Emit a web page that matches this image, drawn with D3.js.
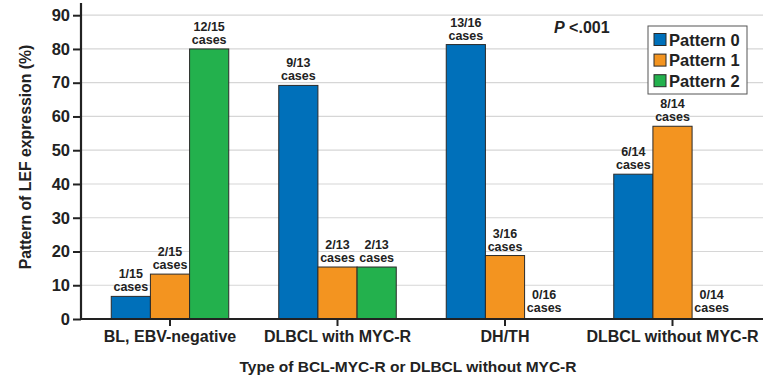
<!DOCTYPE html>
<html><head><meta charset="utf-8">
<script src="https://cdn.jsdelivr.net/npm/d3@7"></script>
<style>body{margin:0;background:#fff}svg{display:block}text{font-family:"Liberation Sans",Arial,Helvetica,sans-serif}</style>
</head><body><svg id="c" width="778" height="384"></svg>
<script>
const categories = ["BL, EBV-negative", "DLBCL with MYC-R", "DH/TH", "DLBCL without MYC-R"];
const patterns = ["Pattern 0", "Pattern 1", "Pattern 2"];
const pattern0 = [6.7, 69.2, 81.3, 42.9];
const pattern1 = [13.3, 15.4, 18.8, 57.1];
const pattern2 = [80, 15.4, 0, 0];
const labels0 = ["1/15", "9/13", "13/16", "6/14"];
const labels1 = ["2/15", "2/13", "3/16", "8/14"];
const labels2 = ["12/15", "2/13", "0/16", "0/14"];
const yTicks = [0, 10, 20, 30, 40, 50, 60, 70, 80, 90];
const colors = ["#0070BA", "#F39420", "#23B14D"];

const svg = d3.select("#c");
const x0 = d3.scaleBand().domain(categories).range([86.25, 756.25]).padding(0);
const y = d3.scaleLinear().domain([0, 90]).range([319, 15.2]);
const x1 = d3.scaleBand().domain(patterns).range([-58.75, 58.75]).padding(0);
const cx = c => x0(c) + x0.bandwidth() / 2;
const left = 81, right = 763;

// gridlines
svg.append("g").selectAll("line").data(yTicks.filter(d => d > 0)).join("line")
  .attr("x1", left).attr("x2", right).attr("y1", d => y(d)).attr("y2", d => y(d))
  .attr("stroke", "#d6d6d6").attr("stroke-width", 1.2);

const series = [pattern0, pattern1, pattern2];
const labs = [labels0, labels1, labels2];
const data = [];
categories.forEach((c, i) => patterns.forEach((p, j) => data.push({c, p, j, v: series[j][i], l: labs[j][i]})));

svg.append("g").selectAll("rect").data(data.filter(d => d.v > 0)).join("rect")
  .attr("x", d => cx(d.c) + x1(d.p)).attr("width", x1.bandwidth())
  .attr("y", d => y(d.v)).attr("height", d => y(0) - y(d.v))
  .attr("fill", d => colors[d.j]).attr("stroke", "#2a2a2a").attr("stroke-width", 1);

const lg = svg.append("g").selectAll("text").data(data).join("text")
  .attr("text-anchor", "middle").attr("fill", "#222").attr("font-size", 12.5).attr("font-weight", "bold")
  .attr("transform", d => `translate(${cx(d.c) + x1(d.p) + x1.bandwidth() / 2},${y(d.v) - (d.v > 0 ? 5 : 7)})`);
lg.append("tspan").attr("x", 0).attr("dy", -13).text(d => d.l);
lg.append("tspan").attr("x", 0).attr("dy", 13).text("cases");

// y axis
const ya = svg.append("g").attr("transform", `translate(${left},0)`)
  .call(d3.axisLeft(y).tickValues(yTicks).tickSize(8).tickPadding(3));
ya.select(".domain").remove();
ya.selectAll("line").attr("stroke", "#222").attr("stroke-width", 2);
ya.selectAll("text").attr("font-size", 16.5).attr("font-weight", "bold").attr("fill", "#222")
  .attr("font-family", "Liberation Sans, Arial, sans-serif");
svg.append("line").attr("x1", left).attr("x2", left).attr("y1", 3).attr("y2", 320)
  .attr("stroke", "#222").attr("stroke-width", 2.2);

// x axis
const xa = svg.append("g").attr("transform", `translate(0,${y(0)})`)
  .call(d3.axisBottom(x0).tickSize(7).tickPadding(5));
xa.select(".domain").remove();
xa.selectAll("line").attr("stroke", "#222").attr("stroke-width", 2);
xa.selectAll("text").attr("font-size", 16).attr("font-weight", "bold").attr("fill", "#222")
  .attr("font-family", "Liberation Sans, Arial, sans-serif");
svg.append("line").attr("x1", left - 1).attr("x2", right).attr("y1", y(0)).attr("y2", y(0))
  .attr("stroke", "#222").attr("stroke-width", 2.2);

// titles
svg.append("text").attr("x", 408).attr("y", 372).attr("text-anchor", "middle")
  .attr("font-size", 15.5).attr("font-weight", "bold").attr("fill", "#222")
  .text("Type of BCL-MYC-R or DLBCL without MYC-R");
svg.append("text").attr("transform", "translate(31,157) rotate(-90)").attr("text-anchor", "middle")
  .attr("font-size", 15.8).attr("font-weight", "bold").attr("fill", "#222")
  .text("Pattern of LEF expression (%)");

// P value
const pt = svg.append("text").attr("x", 554).attr("y", 33).attr("font-size", 16).attr("font-weight", "bold").attr("fill", "#222");
pt.append("tspan").attr("font-style", "italic").text("P");
pt.append("tspan").text(" <.001");

// legend
const leg = svg.append("g");
leg.append("rect").attr("x", 648).attr("y", 26).attr("width", 99).attr("height", 68)
  .attr("fill", "#fff").attr("stroke", "#555").attr("stroke-width", 1);
patterns.forEach((p, i) => {
  const yy = 39.5 + i * 20.6;
  leg.append("rect").attr("x", 654).attr("y", yy - 6).attr("width", 12).attr("height", 12)
    .attr("fill", colors[i]).attr("stroke", "#2a2a2a").attr("stroke-width", 1);
  leg.append("text").attr("x", 669).attr("y", yy + 6).attr("font-size", 16.5).attr("font-weight", "bold")
    .attr("fill", "#222").text(p);
});
</script></body></html>
